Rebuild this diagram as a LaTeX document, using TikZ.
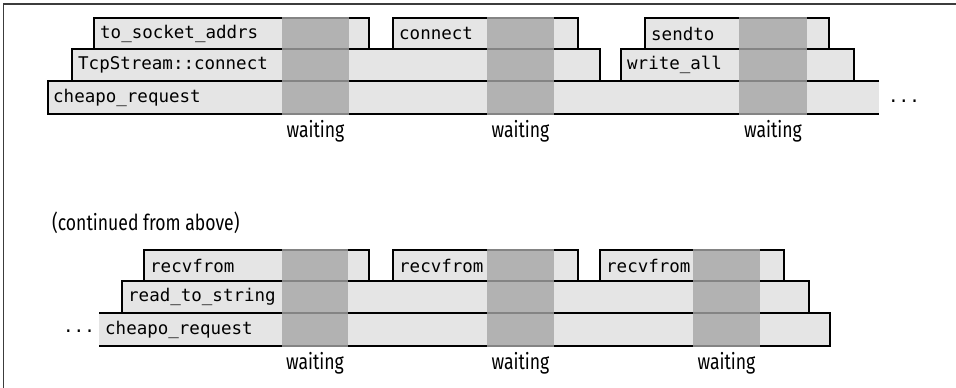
\documentclass[tikz,border=0pt]{standalone}
\usepackage{fontspec}
\setmonofont{DejaVu Sans Mono}
\newfontfamily\condfont[FakeStretch=0.8]{Fira Sans}
\definecolor{boxfill}{RGB}{229,229,229}
\definecolor{bandfill}{RGB}{166,166,166}
\definecolor{framecol}{RGB}{60,60,60}
\begin{document}
\begin{tikzpicture}[x=1pt,y=-1pt,
  boxst/.style={draw=black,fill=boxfill,line width=2pt},
  openst/.style={draw=black,line width=2pt},
  band/.style={fill=bandfill,fill opacity=0.8},
  lbl/.style={anchor=west,inner sep=0pt,font=\ttfamily\fontsize{17.5}{20}\selectfont},
  waitlbl/.style={inner sep=0pt,font=\condfont\fontsize{22}{26}\selectfont},
  dots/.style={inner sep=0pt,font=\ttfamily\fontsize{17.5}{20}\selectfont}]
\useasboundingbox (0,0) rectangle (956,388);
\draw[framecol,line width=1.5pt] (3.5,388) -- (3.5,4) -- (956,4);

% ---------- top section ----------
\fill[boxfill] (48,81) rectangle (879,114);
\draw[openst] (879,81) -- (48,81) -- (48,114) -- (879,114);
\draw[boxst] (72,49) rectangle (600,81);
\draw[boxst] (621,49) rectangle (854,81);
\draw[boxst] (94,18) rectangle (369,49);
\draw[boxst] (393,18) rectangle (578,49);
\draw[boxst] (645,18) rectangle (829,49);
\fill[band] (282,17) rectangle (349,115);
\fill[band] (487,17) rectangle (554,115);
\fill[band] (739,17) rectangle (807,115);
\node[lbl] (tsa) at (100,33.5) {to\_socket\_addrs};
\node[lbl] (con) at (399,33.5) {connect};
\node[lbl] (snd) at (651,33.5) {sendto};
\node[lbl] (tcp) at (78,65) {TcpStream::connect};
\node[lbl] (wra) at (627,65) {write\_all};
\node[lbl] (chq) at (53,97.5) {cheapo\_request};
\node[dots] (dt1) at (904,101) {...};
\node[waitlbl] (w1) at (315.5,131) {waiting};
\node[waitlbl] (w2) at (520.5,131) {waiting};
\node[waitlbl] (w3) at (773,131) {waiting};

% ---------- bottom section ----------
\node[waitlbl,anchor=west] (cont) at (52,223) {(continued from above)};
\fill[boxfill] (99,313) rectangle (830,346);
\draw[openst] (99,313) -- (830,313) -- (830,346) -- (99,346);
\draw[boxst] (122,281) rectangle (809,313);
\draw[boxst] (144,250) rectangle (369,281);
\draw[boxst] (393,250) rectangle (578,281);
\draw[boxst] (600,250) rectangle (784,281);
\fill[band] (282,249) rectangle (348,347);
\fill[band] (487,249) rectangle (554,347);
\fill[band] (693,249) rectangle (760,347);
\node[lbl] (rv1) at (150,265.5) {recvfrom};
\node[lbl] (rv2) at (399,265.5) {recvfrom};
\node[lbl] (rv3) at (606,265.5) {recvfrom};
\node[lbl] (rts) at (128,297) {read\_to\_string};
\node[lbl] (chq2) at (105,329.5) {cheapo\_request};
\node[dots] (dt2) at (79,331) {...};
\node[waitlbl] (w4) at (315,363) {waiting};
\node[waitlbl] (w5) at (520.5,363) {waiting};
\node[waitlbl] (w6) at (726.5,363) {waiting};
\end{tikzpicture}
\end{document}
